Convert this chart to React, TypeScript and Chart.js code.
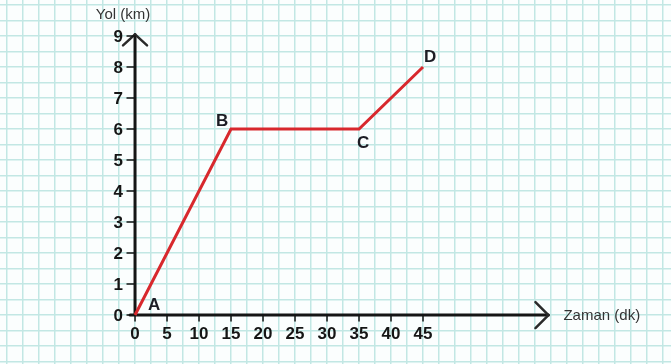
import { useEffect, useRef } from "react";
import { Chart, registerables } from "chart.js";

Chart.register(...registerables);

// Journey: time (minutes) against distance travelled (km)
const timeMin = [0, 15, 35, 45];
const distanceKm = [0, 6, 6, 8];
const pointNames = ["A", "B", "C", "D"];
// pixel offsets of the point letters from their points
const nameOffsetX = [19, -9, 4, 7];
const nameOffsetY = [-10, -8, 14, -10];

const xTickValues = [0, 5, 10, 15, 20, 25, 30, 35, 40, 45];
const yTickValues = [0, 1, 2, 3, 4, 5, 6, 7, 8, 9];
const xTitle = "Zaman (dk)";
const yTitle = "Yol (km)";

const X_MIN = -21.1;
const X_MAX = 83.75;
const Y_MIN = -1.58;
const Y_MAX = 10.16;
const X_ARROW_END = 64.6;
const Y_ARROW_END = 9.05;

const GRID = "#c2e7e4";
const INK = "#151515";
const LABEL_FONT = "bold 17px 'Liberation Sans', Arial, sans-serif";
const TITLE_FONT = "15px 'Liberation Sans', Arial, sans-serif";

function gridTicks(min: number, max: number, step: number) {
  const out: { value: number }[] = [];
  for (let v = Math.ceil(min / step) * step; v <= max + 1e-9; v += step) {
    out.push({ value: Math.round(v * 1000) / 1000 });
  }
  return out;
}

const axesPlugin = {
  id: "axesPlugin",
  beforeDatasetsDraw(chart: any) {
    const ctx = chart.ctx as CanvasRenderingContext2D;
    const xs = chart.scales.x;
    const ys = chart.scales.y;
    const x0 = xs.getPixelForValue(0);
    const y0 = ys.getPixelForValue(0);
    const xEnd = xs.getPixelForValue(X_ARROW_END);
    const yEnd = ys.getPixelForValue(Y_ARROW_END);
    ctx.save();
    ctx.strokeStyle = INK;
    ctx.lineCap = "round";
    ctx.lineJoin = "round";
    // axis lines
    ctx.lineWidth = 3;
    ctx.beginPath();
    ctx.moveTo(x0 - 5, y0);
    ctx.lineTo(xEnd, y0);
    ctx.moveTo(x0, y0);
    ctx.lineTo(x0, yEnd);
    ctx.stroke();
    // open arrow heads
    ctx.lineWidth = 2.5;
    ctx.strokeStyle = "#2a2a2a";
    ctx.beginPath();
    ctx.moveTo(xEnd - 13, y0 - 13);
    ctx.lineTo(xEnd, y0);
    ctx.lineTo(xEnd - 13, y0 + 13);
    ctx.moveTo(x0 - 12, yEnd + 11);
    ctx.lineTo(x0, yEnd);
    ctx.lineTo(x0 + 12, yEnd + 11);
    ctx.stroke();
    // tick marks
    ctx.lineWidth = 1.5;
    ctx.strokeStyle = INK;
    ctx.beginPath();
    xTickValues.forEach((v) => {
      const px = xs.getPixelForValue(v);
      ctx.moveTo(px, y0);
      ctx.lineTo(px, y0 + 6);
    });
    yTickValues.forEach((v) => {
      const py = ys.getPixelForValue(v);
      ctx.moveTo(x0 - 8, py);
      ctx.lineTo(x0, py);
    });
    ctx.stroke();
    ctx.restore();
  },
  afterDatasetsDraw(chart: any) {
    const ctx = chart.ctx as CanvasRenderingContext2D;
    const xs = chart.scales.x;
    const ys = chart.scales.y;
    const x0 = xs.getPixelForValue(0);
    const y0 = ys.getPixelForValue(0);
    ctx.save();
    ctx.fillStyle = INK;
    ctx.font = LABEL_FONT;
    ctx.textAlign = "center";
    ctx.textBaseline = "middle";
    xTickValues.forEach((v) => {
      ctx.fillText(String(v), xs.getPixelForValue(v), y0 + 19);
    });
    ctx.textAlign = "right";
    yTickValues.forEach((v) => {
      ctx.fillText(String(v), x0 - 12, ys.getPixelForValue(v) + 1);
    });
    // point letters
    ctx.textAlign = "center";
    ctx.fillStyle = "#1c1c24";
    pointNames.forEach((name, i) => {
      const px = xs.getPixelForValue(timeMin[i]) + nameOffsetX[i];
      const py = ys.getPixelForValue(distanceKm[i]) + nameOffsetY[i];
      ctx.fillText(name, px, py);
    });
    // axis titles
    ctx.font = TITLE_FONT;
    ctx.fillStyle = "#333333";
    ctx.textAlign = "center";
    ctx.fillText(yTitle, x0 - 12, ys.getPixelForValue(Y_ARROW_END) - 20);
    ctx.textAlign = "left";
    ctx.fillText(xTitle, xs.getPixelForValue(X_ARROW_END) + 15, y0 + 1);
    ctx.restore();
  },
};

export default function App() {
  const canvasRef = useRef<HTMLCanvasElement | null>(null);

  useEffect(() => {
    document.body.style.margin = "0";
    const canvas = canvasRef.current;
    if (!canvas) return;
    const chart = new Chart(canvas, {
      type: "line",
      data: {
        datasets: [
          {
            data: timeMin.map((t, i) => ({ x: t, y: distanceKm[i] })),
            borderColor: "#d8282d",
            borderWidth: 3,
            pointRadius: 0,
            tension: 0,
            fill: false,
          },
        ],
      },
      options: {
        responsive: false,
        animation: false,
        events: [],
        layout: { padding: 0 },
        plugins: {
          legend: { display: false },
          tooltip: { enabled: false },
        },
        scales: {
          x: {
            type: "linear",
            min: X_MIN,
            max: X_MAX,
            afterBuildTicks: (s: any) => {
              s.ticks = gridTicks(X_MIN, X_MAX, 2.5);
            },
            ticks: { display: false },
            border: { display: false },
            grid: { color: GRID, lineWidth: 1.5, drawTicks: false },
          },
          y: {
            type: "linear",
            min: Y_MIN,
            max: Y_MAX,
            afterBuildTicks: (s: any) => {
              s.ticks = gridTicks(Y_MIN, Y_MAX, 0.5);
            },
            ticks: { display: false },
            border: { display: false },
            grid: { color: GRID, lineWidth: 1.5, drawTicks: false },
          },
        },
      },
      plugins: [axesPlugin],
    });
    return () => chart.destroy();
  }, []);

  return (
    <div style={{ position: "absolute", left: 0, top: 0, width: 671, height: 364, background: "#fbfefe" }}>
      <canvas ref={canvasRef} width={671} height={364} style={{ display: "block" }} />
    </div>
  );
}
